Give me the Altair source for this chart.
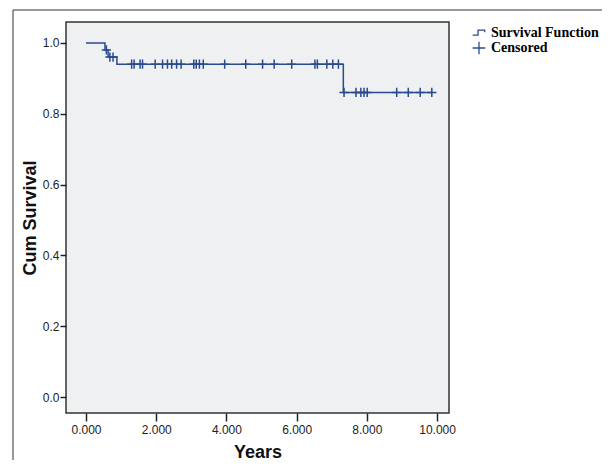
import altair as alt
import pandas as pd

# Kaplan-Meier estimate
event_times = [0.0, 0.54, 0.63, 0.88, 7.33]
event_surv = [1.0, 0.98, 0.96, 0.94, 0.86]
end_time = 9.85

censor_times = [0.58, 0.68, 0.77, 1.30, 1.37, 1.54, 1.61, 1.97, 2.18, 2.32, 2.44,
                2.58, 2.71, 3.07, 3.14, 3.23, 3.34, 3.95, 4.55, 5.03, 5.36, 5.86,
                6.52, 6.59, 6.86, 7.03, 7.19, 7.35, 7.69, 7.83, 7.92, 8.01, 8.85,
                9.18, 9.52, 9.85]

x_ticks = [0, 2, 4, 6, 8, 10]
y_ticks = [0.0, 0.2, 0.4, 0.6, 0.8, 1.0]
legend_labels = ["Survival Function", "Censored"]

LINE = "#2a4a8e"
AXFONT = "Liberation Sans Narrow, Liberation Sans, Arial, sans-serif"


def surv_at(t):
    s = event_surv[0]
    for et, es in zip(event_times, event_surv):
        if et <= t:
            s = es
    return s


line_df = pd.DataFrame({
    "t": event_times + [end_time],
    "s": event_surv + [event_surv[-1]],
})
cens_df = pd.DataFrame({
    "t": censor_times,
    "s": [surv_at(t) for t in censor_times],
    "kind": ["Censored"] * len(censor_times),
})

xscale = alt.Scale(domain=[-0.57, 10.34], nice=False, zero=False)
yscale = alt.Scale(domain=[-0.045, 1.059], nice=False, zero=False)

xaxis = alt.Axis(title="Years", values=x_ticks, format=".3f", grid=False, domain=False,
                 tickSize=8, tickColor="#222", tickWidth=1.5, labelPadding=3,
                 labelFont=AXFONT, labelFontSize=12, labelColor="#222",
                 titleFont="Liberation Sans", titleFontSize=18, titleFontWeight="bold",
                 titleColor="#111", titlePadding=8)
yaxis = alt.Axis(title="Cum Survival", values=y_ticks, format=".1f", grid=False, domain=False,
                 tickSize=6, tickColor="#222", tickWidth=1.5, labelPadding=1,
                 labelFont=AXFONT, labelFontSize=12, labelColor="#222",
                 titleFont="Liberation Sans", titleFontSize=18, titleFontWeight="bold",
                 titleColor="#111", titlePadding=3)

step_path = "M-1,0.35L-0.15,0.35L-0.15,-0.45L0.9,-0.45L0.9,-0.1"
plus_path = "M-1,0L1,0M0,-1L0,1"

line = alt.Chart(line_df).mark_line(interpolate="step-after", color=LINE, strokeWidth=1.5).encode(
    x=alt.X("t:Q", scale=xscale, axis=xaxis),
    y=alt.Y("s:Q", scale=yscale, axis=yaxis),
)

pts = alt.Chart(cens_df).mark_point(filled=False, color=LINE, strokeWidth=1.5, size=85, opacity=1).encode(
    x=alt.X("t:Q", scale=xscale),
    y=alt.Y("s:Q", scale=yscale),
    shape=alt.Shape("kind:N",
                    scale=alt.Scale(domain=legend_labels, range=[step_path, plus_path]),
                    legend=alt.Legend(title=None, orient="none", legendX=406, legendY=4,
                                      labelFont="Liberation Serif", labelFontSize=14,
                                      labelFontWeight="bold", labelColor="#000",
                                      symbolStrokeColor=LINE, symbolFillColor="transparent",
                                      symbolStrokeWidth=1.3, symbolSize=160,
                                      rowPadding=-1, labelOffset=5)),
)

border_df = pd.DataFrame({"a": [0]})
left_border = alt.Chart(border_df).mark_rule(color="#333", strokeWidth=1).encode(
    x=alt.value(-53), y=alt.value(-12), y2=alt.value(460))
top_border = alt.Chart(border_df).mark_rule(color="#333", strokeWidth=1).encode(
    x=alt.value(-53), x2=alt.value(560), y=alt.value(-12))

chart = alt.layer(line, pts, left_border, top_border).properties(
    width=383, height=391,
    autosize=alt.AutoSizeParams(type="none"),
    padding={"left": 58, "top": 14, "right": 153, "bottom": 47},
    background="white",
).configure_view(
    stroke="#333", strokeWidth=1.5, fill="#eef0f2"
)

chart.save("out.html", embed_options={"renderer": "svg", "actions": False})
